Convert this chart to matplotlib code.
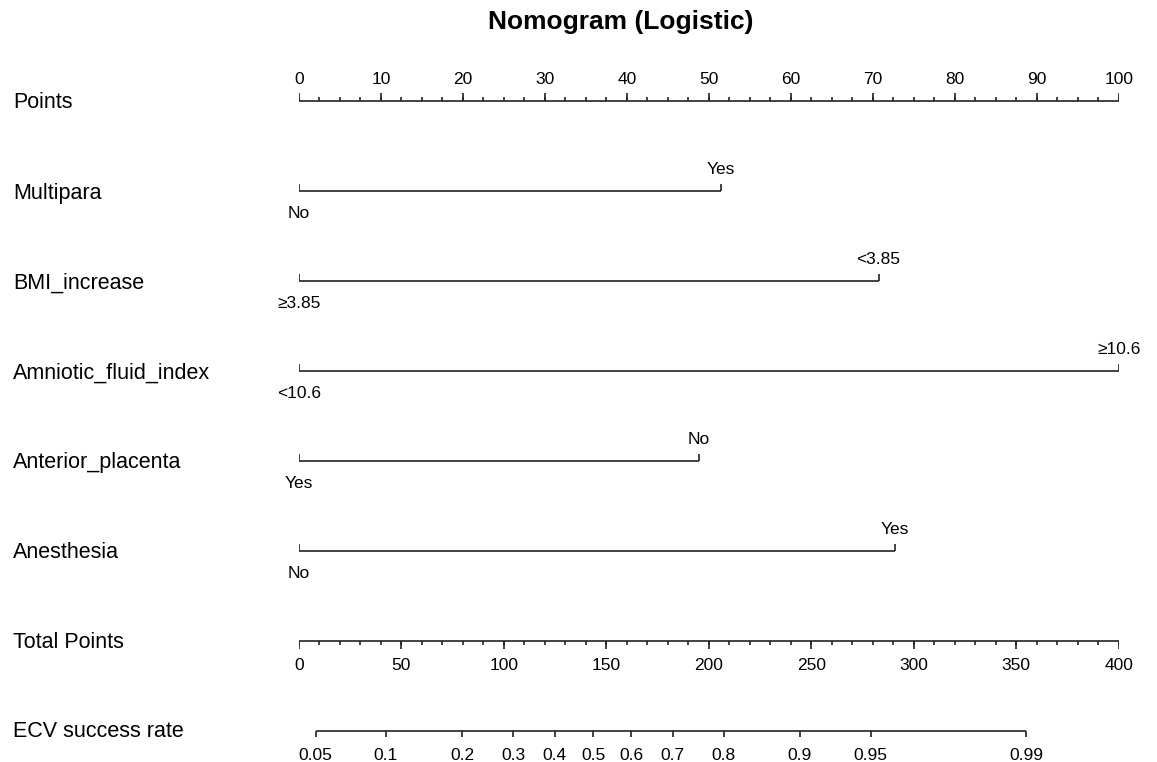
import matplotlib.pyplot as plt
from matplotlib.transforms import blended_transform_factory

plt.rcParams['font.family'] = ['Liberation Sans', 'DejaVu Sans']

# Datos del nomograma
row_names = ['Points', 'Multipara', 'BMI_increase', 'Amniotic_fluid_index',
             'Anterior_placenta', 'Anesthesia', 'Total Points', 'ECV success rate']

factor_low = ['No', '≥3.85', '<10.6', 'Yes', 'No']
factor_high = ['Yes', '<3.85', '≥10.6', 'No', 'Yes']
factor_points = [51.5, 70.7, 100, 48.8, 72.7]

points_major = list(range(0, 101, 10))
points_minor = [i * 2.5 for i in range(41)]
total_major = list(range(0, 401, 50))
total_minor = list(range(0, 401, 10))

ecv_labels = ['0.05', '0.1', '0.2', '0.3', '0.4', '0.5', '0.6', '0.7',
              '0.8', '0.9', '0.95', '0.99']
# posicion de cada marca en la escala de Total Points
ecv_total_points = [8.2, 42.3, 79.7, 104.6, 124.8, 143.5, 162.2, 182.4,
                    207.2, 244.4, 278.9, 354.9]

TOTAL_MAX = 400
W, H = 1157, 762
ROW_PX = 90.0
PX = 1 / ROW_PX           # un pixel en unidades de fila
Y_TOP, Y_BOT = -0.6, 7.34
ROW0_PX = 101

fig = plt.figure(figsize=(W / 100, H / 100), dpi=100)
ax_top_px = ROW0_PX + Y_TOP * ROW_PX
ax_h_px = (Y_BOT - Y_TOP) * ROW_PX
ax = fig.add_axes([299 / W, 1 - (ax_top_px + ax_h_px) / H, 819.7 / W, ax_h_px / H])
ax.set_xlim(0, 100)
ax.set_ylim(Y_BOT, Y_TOP)
ax.axis('off')

lc = '#222222'
lw = 1.2
fs_tick = 12.5
fs_row = 15.5

# nombres de las filas
trans = blended_transform_factory(fig.transFigure, ax.transData)
for i, name in enumerate(row_names):
    off = 6 if i == 7 else 7.5
    ax.text(13 / W, i + off * PX, name, transform=trans, ha='left', va='baseline',
            fontsize=fs_row, color='black')

# escala Points
ax.hlines(0, 0, 100, color=lc, lw=lw)
ax.vlines(points_minor, 0, -4.5 * PX, color=lc, lw=lw)
ax.vlines(points_major, 0, -8 * PX, color=lc, lw=lw)
for p in points_major:
    ax.text(p, -17 * PX, str(p), ha='center', va='baseline', fontsize=fs_tick)

# variables categoricas
for k in range(len(factor_points)):
    y = k + 1
    p = factor_points[k]
    ax.hlines(y, 0, p, color=lc, lw=lw)
    ax.vlines([0, p], y, y - 7 * PX, color=lc, lw=lw)
    ax.text(p, y - 17 * PX, factor_high[k], ha='center', va='baseline', fontsize=fs_tick)
    ax.text(0, y + 27 * PX, factor_low[k], ha='center', va='baseline', fontsize=fs_tick)

# Total Points
y = 6
tot_minor = [t / TOTAL_MAX * 100 for t in total_minor]
tot_major = [t / TOTAL_MAX * 100 for t in total_major]
ax.hlines(y, 0, 100, color=lc, lw=lw)
ax.vlines(tot_minor, y, y + 4.5 * PX, color=lc, lw=lw)
ax.vlines(tot_major, y, y + 7.7 * PX, color=lc, lw=lw)
for x, t in zip(tot_major, total_major):
    ax.text(x, y + 29.3 * PX, str(t), ha='center', va='baseline', fontsize=fs_tick)

# ECV success rate
y = 7
ecv_x = [t / TOTAL_MAX * 100 for t in ecv_total_points]
ax.hlines(y, ecv_x[0], ecv_x[-1], color=lc, lw=lw)
ax.vlines(ecv_x, y, y + 6 * PX, color=lc, lw=lw)
for x, lab in zip(ecv_x, ecv_labels):
    ax.text(x, y + 29 * PX, lab, ha='center', va='baseline', fontsize=fs_tick)

fig.text(621 / W, 1 - 22 / H, 'Nomogram (Logistic)', ha='center', va='center',
         fontsize=19, fontweight='bold')

plt.savefig('out.png', dpi=100)
